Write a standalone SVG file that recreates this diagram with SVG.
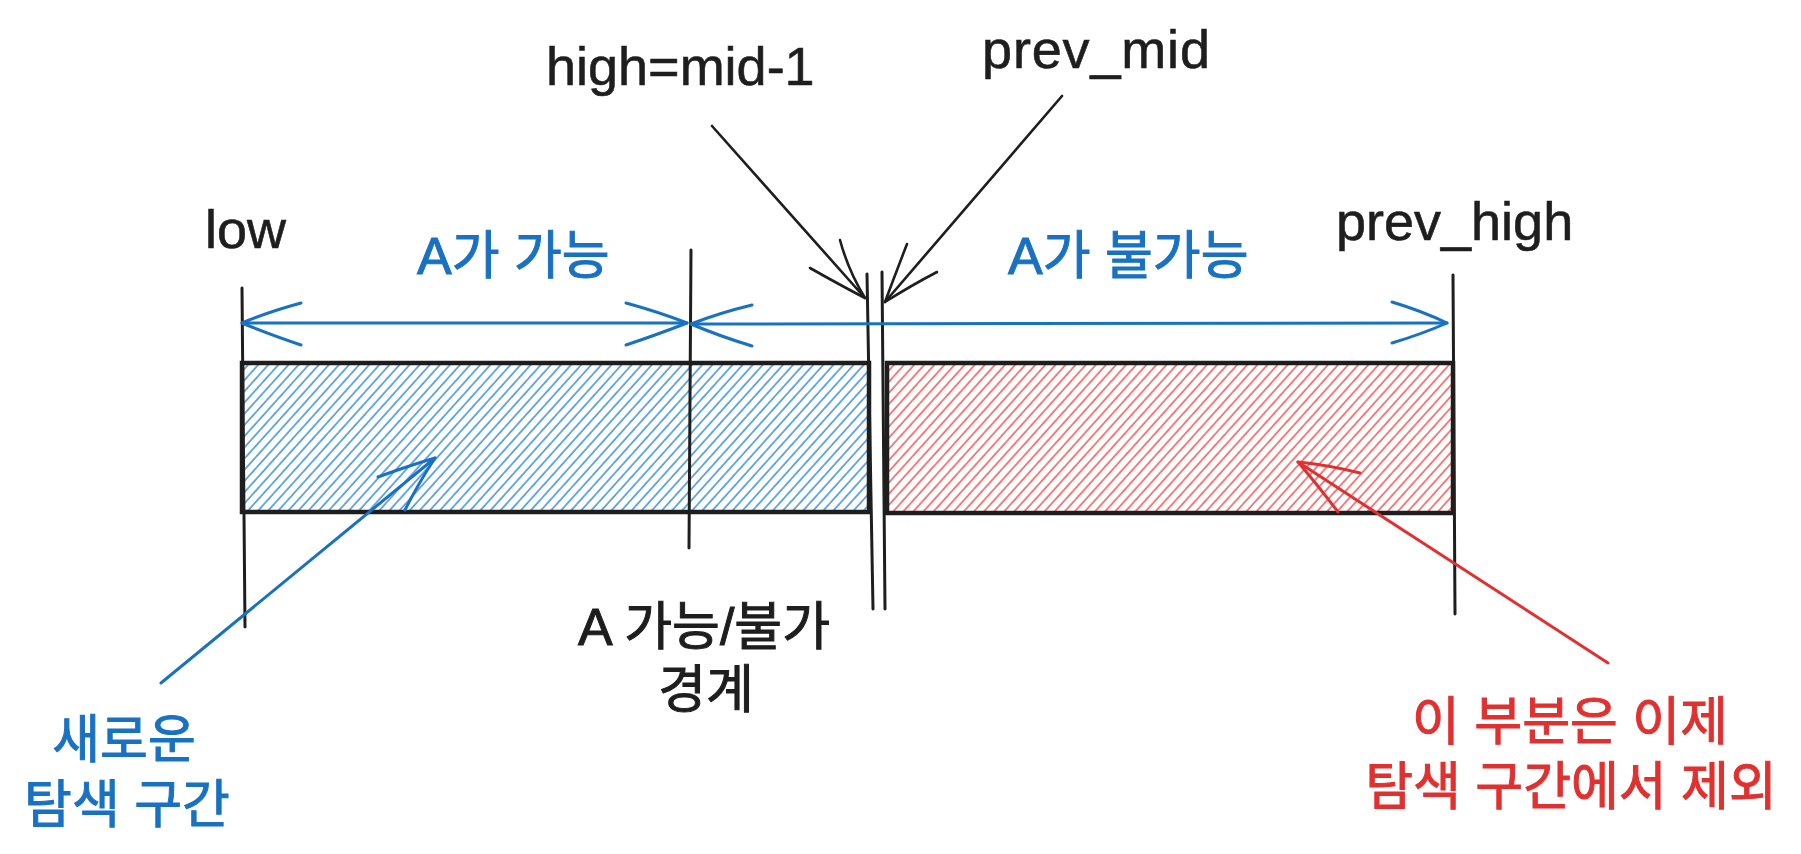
<svg xmlns="http://www.w3.org/2000/svg" width="1801" height="854" viewBox="0 0 1801 854">
<defs>
<style>
.t{font-family:"Liberation Sans","Noto Sans CJK KR",sans-serif;font-size:54px;fill:#1e1e1e;stroke:#1e1e1e;stroke-width:0.6}
.k{font-family:"Liberation Sans","Noto Sans CJK KR",sans-serif;font-size:52px;stroke-width:1}
.blue{fill:#1971c2;stroke:#1971c2}
.red{fill:#e03131;stroke:#e03131}
.blk{fill:#1e1e1e;stroke:#1e1e1e}
.tick{stroke:#1e1e1e;stroke-width:3;fill:none;stroke-linecap:round}
.box{stroke:#1e1e1e;stroke-width:4.5;}
.ba{stroke:#1971c2;stroke-width:3;fill:none;stroke-linecap:round;stroke-linejoin:round}
.ka{stroke:#1e1e1e;stroke-width:2.6;fill:none;stroke-linecap:round;stroke-linejoin:round}
.ra{stroke:#e03131;stroke-width:3;fill:none;stroke-linecap:round;stroke-linejoin:round}
</style>
<pattern id="hb" patternUnits="userSpaceOnUse" width="7.5" height="10" patternTransform="rotate(42)">
<line x1="1" y1="0" x2="1" y2="10" stroke="#1c7ed6" stroke-width="1.3"/>
</pattern>
<pattern id="hr" patternUnits="userSpaceOnUse" width="7.5" height="10" patternTransform="rotate(42)">
<line x1="1" y1="0" x2="1" y2="10" stroke="#f03e3e" stroke-width="1.3"/>
</pattern>
</defs>
<rect width="1801" height="854" fill="#ffffff"/>

<g id="blue-range">
<rect x="242" y="363" width="627" height="149" fill="url(#hb)" class="box"/>
</g>
<g id="red-range">
<rect x="887" y="363" width="566" height="150" fill="url(#hr)" class="box"/>
</g>

<g id="ticks">
<line class="tick" x1="242" y1="288" x2="245" y2="627"/>
<line class="tick" x1="691" y1="250" x2="689" y2="548"/>
<line class="tick" x1="867" y1="274" x2="873" y2="609"/>
<line class="tick" x1="882" y1="272" x2="885" y2="609"/>
<line class="tick" x1="1453" y1="275" x2="1455" y2="614"/>
</g>

<g id="labels">
<text class="t" x="205" y="248">low</text>
<text class="t" x="546" y="85">high=mid-1</text>
<text class="t" x="982" y="68" textLength="228">prev_mid</text>
<text class="t" x="1336" y="240">prev_high</text>
<text class="k blue" x="417" y="274">A가 가능</text>
<text class="k blue" x="1008" y="274">A가 불가능</text>
<text class="k blk" x="704" y="645" text-anchor="middle">A 가능/불가</text>
<text class="k blk" x="706" y="708" text-anchor="middle">경계</text>
<text class="k blue" x="124" y="758" text-anchor="middle">새로운</text>
<text class="k blue" x="127" y="823" text-anchor="middle">탐색 구간</text>
<text class="k red" x="1570" y="740" text-anchor="middle">이 부분은 이제</text>
<text class="k red" x="1571" y="805" text-anchor="middle">탐색 구간에서 제외</text>
</g>

<g id="connectors">
<path class="ba" d="M242 323 L687 323"/>
<path class="ba" d="M301 303 Q268 312 242 323 Q268 334 301 345"/>
<path class="ba" d="M626 303 Q659 312 687 323 Q659 334 626 345"/>
<path class="ba" d="M691 324 L1447 323"/>
<path class="ba" d="M752 305 Q719 313 691 324 Q719 336 752 346"/>
<path class="ba" d="M1392 302 Q1422 311 1447 323 Q1422 334 1392 343"/>
<path class="ka" d="M712 126 L865 298"/>
<path class="ka" d="M810 268 Q840 285 865 298 Q848 270 840 240"/>
<path class="ka" d="M1062 96 L885 302"/>
<path class="ka" d="M907 244 Q895 275 885 302 Q912 285 937 272"/>
<path class="ba" d="M161 683 L435 458"/>
<path class="ba" d="M378 477 Q408 466 435 458 Q418 484 405 510"/>
<path class="ra" d="M1608 663 L1298 462"/>
<path class="ra" d="M1360 473 Q1328 465 1298 462 Q1320 488 1338 512"/>
</g>
</svg>
